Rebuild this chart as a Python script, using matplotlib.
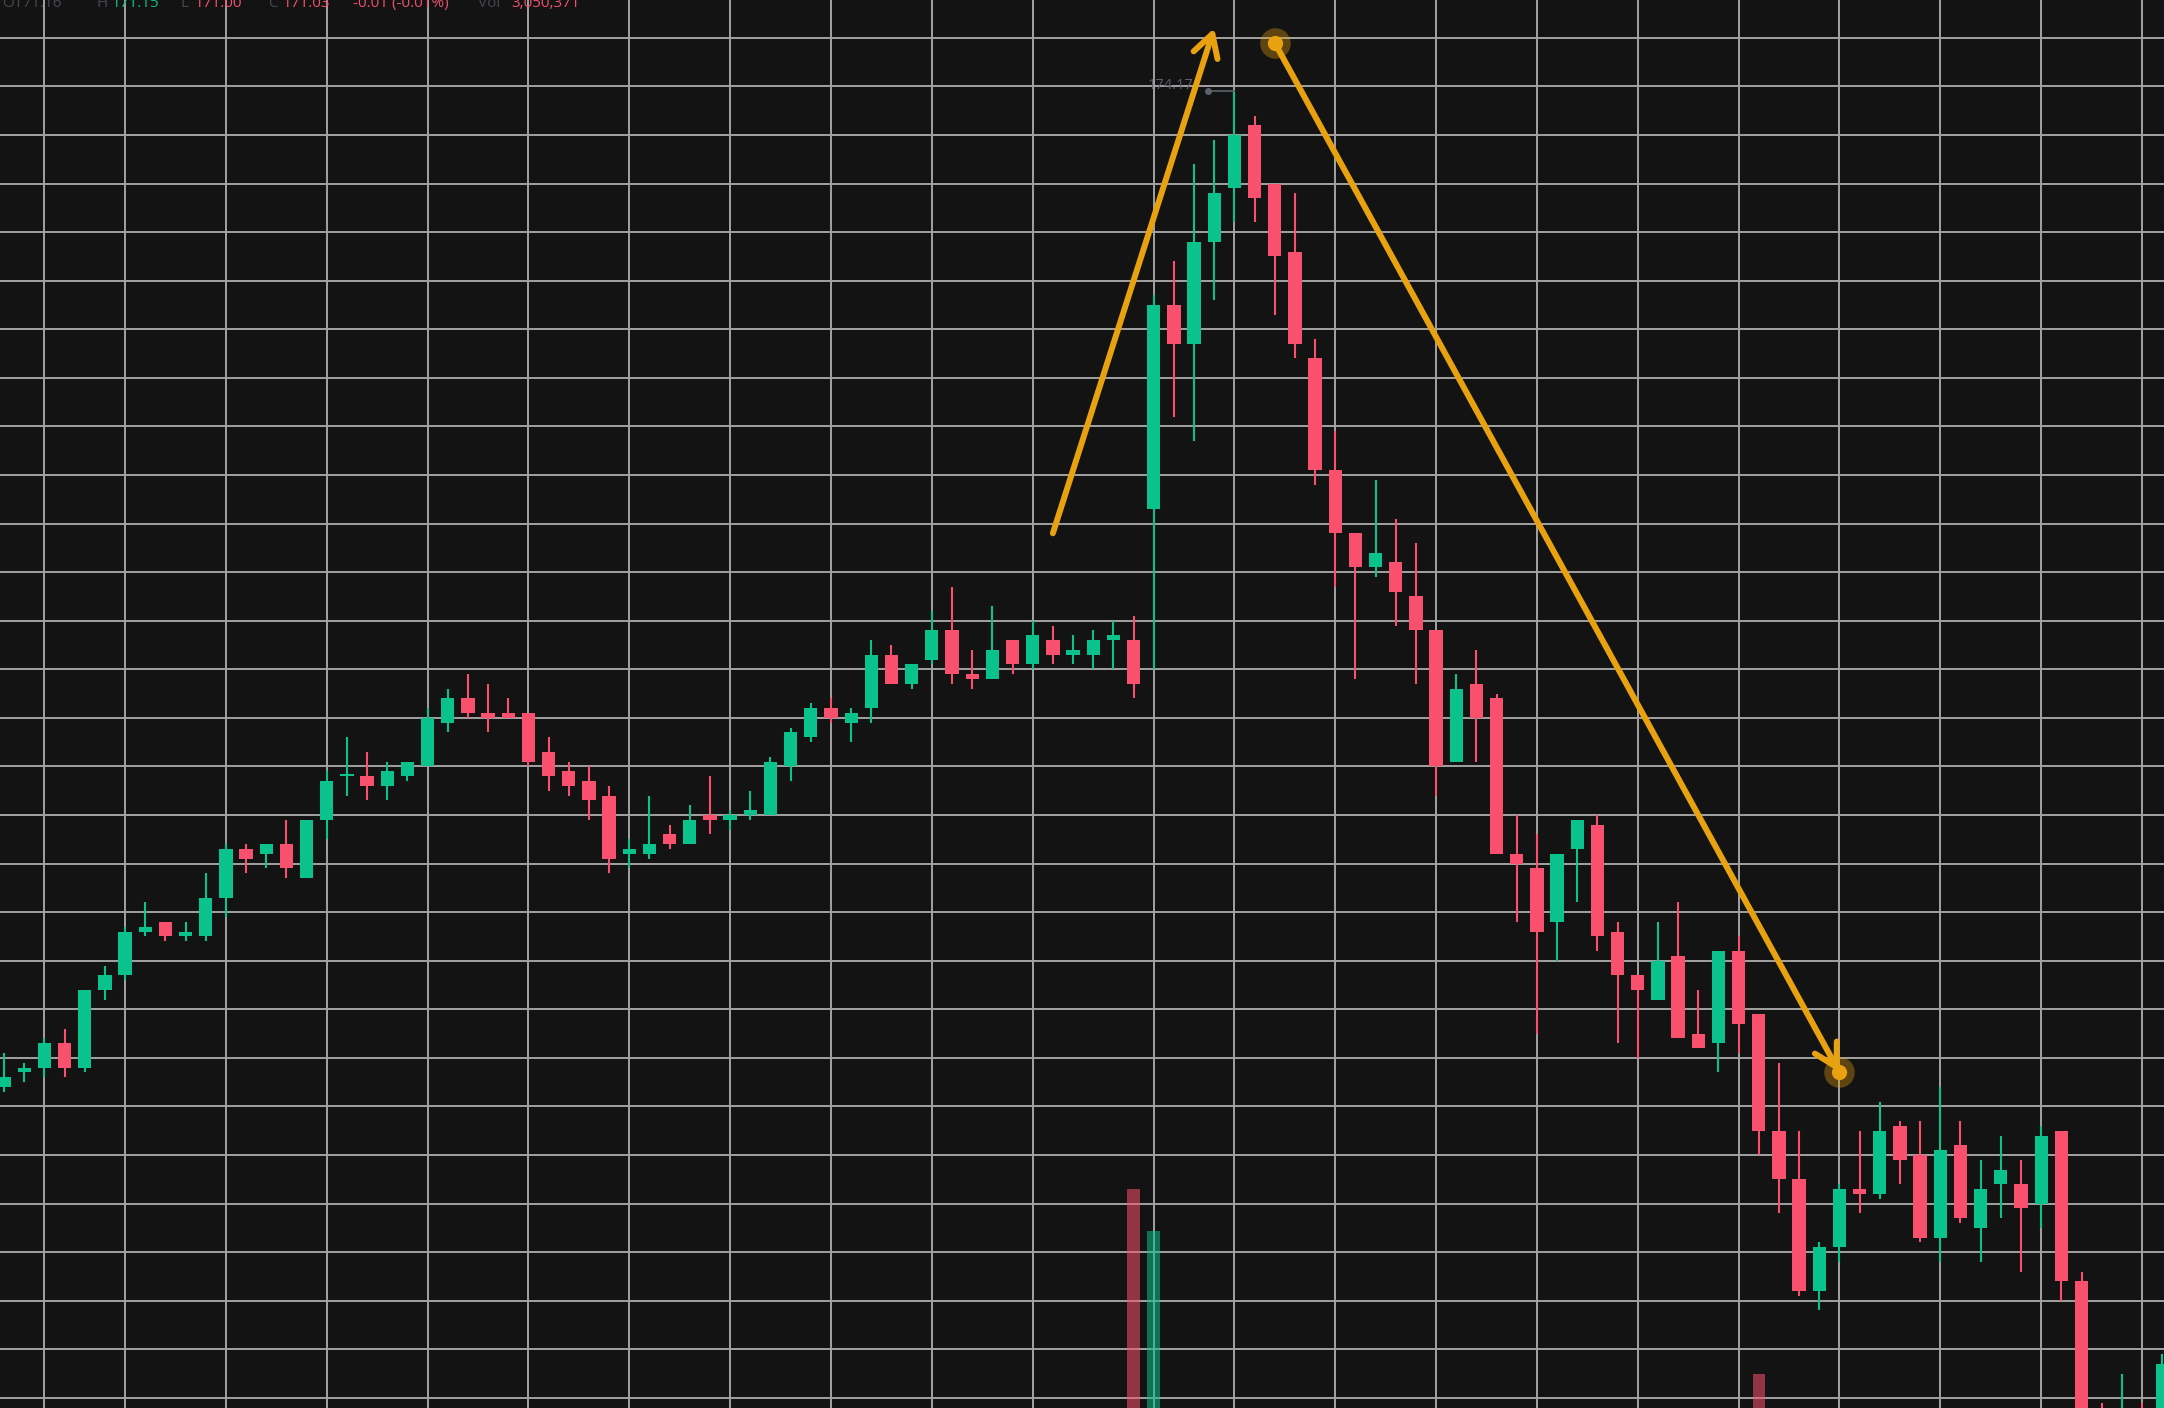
import matplotlib
matplotlib.use('Agg')
import matplotlib.pyplot as plt
from matplotlib.patches import FancyArrowPatch
import numpy as np

# OHLC per bar
opens = [172.12, 172.15, 172.16, 172.21, 172.16, 172.32, 172.35, 172.44, 172.46, 172.43,
         172.43, 172.51, 172.61, 172.60, 172.62, 172.55, 172.67, 172.76, 172.76, 172.74,
         172.76, 172.78, 172.87, 172.92, 172.89, 172.89, 172.89, 172.81, 172.77, 172.75,
         172.72, 172.60, 172.60, 172.64, 172.62, 172.68, 172.67, 172.68, 172.68, 172.78,
         172.84, 172.90, 172.87, 172.90, 173.01, 172.95, 173.00, 173.06, 172.97, 172.96,
         173.04, 172.99, 173.04, 173.01, 173.01, 173.04, 173.04, 173.31, 173.73, 173.65,
         173.86, 173.97, 174.10, 173.98, 173.84, 173.62, 173.39, 173.26, 173.19, 173.20,
         173.13, 173.06, 172.79, 172.95, 172.92, 172.60, 172.57, 172.46, 172.61, 172.66,
         172.44, 172.35, 172.30, 172.39, 172.23, 172.21, 172.40, 172.27, 172.03, 171.93,
         171.70, 171.79, 171.91, 171.90, 172.04, 171.98, 171.81, 172.00, 171.83, 171.92,
         171.92, 171.88, 172.03, 171.72, 171.45, 171.40, 171.45, 171.42]
highs = [172.19, 172.17, 172.22, 172.24, 172.32, 172.37, 172.45, 172.50, 172.46, 172.46,
         172.56, 172.62, 172.62, 172.62, 172.67, 172.67, 172.77, 172.84, 172.81, 172.79,
         172.79, 172.90, 172.94, 172.97, 172.95, 172.92, 172.89, 172.84, 172.79, 172.78,
         172.74, 172.63, 172.72, 172.66, 172.70, 172.76, 172.69, 172.73, 172.80, 172.86,
         172.91, 172.92, 172.90, 173.04, 173.03, 172.99, 173.10, 173.15, 173.02, 173.11,
         173.04, 173.08, 173.07, 173.05, 173.06, 173.08, 173.09, 173.75, 173.82, 174.02,
         174.07, 174.17, 174.12, 173.98, 173.96, 173.66, 173.47, 173.26, 173.37, 173.29,
         173.24, 173.06, 172.97, 173.02, 172.93, 172.68, 172.64, 172.60, 172.67, 172.68,
         172.46, 172.35, 172.46, 172.50, 172.32, 172.40, 172.43, 172.27, 172.17, 172.03,
         171.80, 171.92, 172.03, 172.09, 172.05, 172.05, 172.12, 172.05, 171.97, 172.02,
         171.97, 172.04, 172.03, 171.74, 171.47, 171.53, 171.47, 171.57]
lows = [172.11, 172.13, 172.14, 172.14, 172.15, 172.30, 172.34, 172.43, 172.42, 172.42,
        172.42, 172.47, 172.56, 172.57, 172.55, 172.55, 172.63, 172.72, 172.71, 172.71,
        172.75, 172.78, 172.85, 172.88, 172.85, 172.88, 172.78, 172.73, 172.72, 172.67,
        172.56, 172.57, 172.59, 172.61, 172.62, 172.64, 172.65, 172.67, 172.68, 172.75,
        172.83, 172.87, 172.83, 172.87, 172.95, 172.94, 172.99, 172.95, 172.94, 172.96,
        172.97, 172.98, 172.99, 172.99, 172.98, 172.98, 172.92, 172.98, 173.50, 173.45,
        173.74, 173.90, 173.90, 173.71, 173.62, 173.36, 173.15, 172.96, 173.17, 173.07,
        172.95, 172.72, 172.79, 172.79, 172.60, 172.46, 172.23, 172.38, 172.50, 172.40,
        172.21, 172.18, 172.30, 172.22, 172.20, 172.15, 172.19, 171.98, 171.86, 171.69,
        171.66, 171.76, 171.86, 171.89, 171.92, 171.80, 171.76, 171.84, 171.76, 171.85,
        171.74, 171.83, 171.68, 171.38, 171.38, 171.38, 171.40, 171.40]
closes = [172.14, 172.16, 172.21, 172.16, 172.32, 172.35, 172.44, 172.45, 172.43, 172.44,
          172.51, 172.61, 172.59, 172.62, 172.57, 172.67, 172.75, 172.76, 172.74, 172.77,
          172.79, 172.88, 172.92, 172.89, 172.88, 172.88, 172.79, 172.76, 172.74, 172.71,
          172.59, 172.61, 172.62, 172.62, 172.67, 172.67, 172.68, 172.69, 172.79, 172.85,
          172.90, 172.88, 172.89, 173.01, 172.95, 172.99, 173.06, 172.97, 172.96, 173.02,
          172.99, 173.05, 173.01, 173.02, 173.04, 173.05, 172.95, 173.73, 173.65, 173.86,
          173.96, 174.08, 173.95, 173.83, 173.65, 173.39, 173.26, 173.19, 173.22, 173.14,
          173.06, 172.78, 172.94, 172.88, 172.60, 172.58, 172.44, 172.60, 172.67, 172.43,
          172.35, 172.32, 172.38, 172.22, 172.20, 172.40, 172.25, 172.03, 171.93, 171.70,
          171.79, 171.91, 171.90, 172.03, 171.97, 171.81, 171.99, 171.85, 171.91, 171.95,
          171.87, 172.02, 171.72, 171.40, 171.40, 171.45, 171.42, 171.55]

# only the volume spikes that reach into the visible area
vol_bars = [56, 57, 87]
vol_values = [9.8, 7.9, 1.5]   # millions

# bars where the time grid lines fall
time_grid_bars = [2, 6, 11, 16, 21, 26, 31, 36, 41, 46, 51, 57, 61, 66, 71, 76, 81, 86, 91, 96, 101, 106]

# drawings (bar index, price)
arrow_up = [(52, 173.26), (60, 174.30)]
arrow_down = [(63, 174.27), (91, 172.15)]
high_bar = 61
high_price = 174.17

dim = '#45484f'
legend_parts = [("O171.16", dim), ("H", dim), ("171.15", '#0bbf8b'),
                ("L", dim), ("171.00", '#f0506c'), ("C", dim), ("171.03", '#f0506c'),
                ("-0.01 (-0.01%)", '#f0506c'), ("Vol", dim), ("3,050,371", '#f0506c')]
legend_x = [2, 97, 112, 181, 195, 268, 283, 353, 478, 511]

bg = '#131313'
green = '#0ac28b'
red = '#f9506d'
orange = '#e8a10f'

W, H = 2164, 1408
fig = plt.figure(figsize=(W / 100, H / 100), dpi=100)
fig.patch.set_facecolor(bg)
ax = fig.add_axes([0, 0, 1, 1])
ax.set_facecolor(bg)

n = len(opens)
x = np.arange(n)
o = np.array(opens)
c = np.array(closes)
hi = np.array(highs)
lo = np.array(lows)
up = c >= o
cols = np.where(up, green, red)

ax.set_xlim(-0.2, 107.09)
ax.set_ylim(171.459, 174.358)
ax.set_xticks(time_grid_bars)
ax.set_yticks(np.arange(171.48, 174.30, 0.1))
ax.grid(True, color='#a2a2a2', lw=1.4)
ax.set_axisbelow(True)
ax.tick_params(length=0, labelbottom=False, labelleft=False)
for s in ax.spines.values():
    s.set_visible(False)

# candles
ax.vlines(x, lo, hi, colors=cols, lw=1.5, zorder=3)
body = np.maximum(np.abs(c - o), 0.004)
ax.bar(x, body, bottom=np.minimum(o, c), width=0.66, color=cols, zorder=4, linewidth=0)

# volume overlay
vax = ax.twinx()
vax.set_ylim(0, 63)
vax.set_xlim(ax.get_xlim())
vcols = [green if up[i] else red for i in vol_bars]
vax.bar(vol_bars, vol_values, width=0.62, color=vcols, alpha=0.55, linewidth=0, zorder=2)
vax.axis('off')

# high marker
ax.plot([high_bar - 1.3, high_bar], [high_price, high_price], color='#5f626a', lw=1.2, zorder=5)
ax.plot(high_bar - 1.3, high_price, 'o', color='#5f626a', ms=4, zorder=5)
ax.text(high_bar - 2.0, high_price + 0.012, f"{high_price:.2f}", ha='right', va='center',
        color='#5c5f67', fontsize=10.5, family='Open Sans', zorder=5)

# arrows
for (a, b) in [arrow_up, arrow_down]:
    arr = FancyArrowPatch(a, b, arrowstyle='->,head_length=0.8,head_width=0.45',
                          mutation_scale=20, color=orange, lw=4.3, shrinkA=0, shrinkB=0,
                          capstyle='round', joinstyle='round', zorder=6)
    ax.add_patch(arr)

hx = [p[0] for p in arrow_down]
hy = [p[1] for p in arrow_down]
ax.plot(hx, hy, 'o', ms=22, color=orange, alpha=0.35, mec='none', zorder=7)
ax.plot(hx, hy, 'o', ms=11, color=orange, mec='none', zorder=8)

# cut-off legend line at the top
for (txt, col), px in zip(legend_parts, legend_x):
    fig.text(px / W, 1 - 7 / H, txt, color=col, fontsize=11, family='Open Sans', va='baseline')

fig.savefig('out.png', dpi=100, facecolor=bg)
